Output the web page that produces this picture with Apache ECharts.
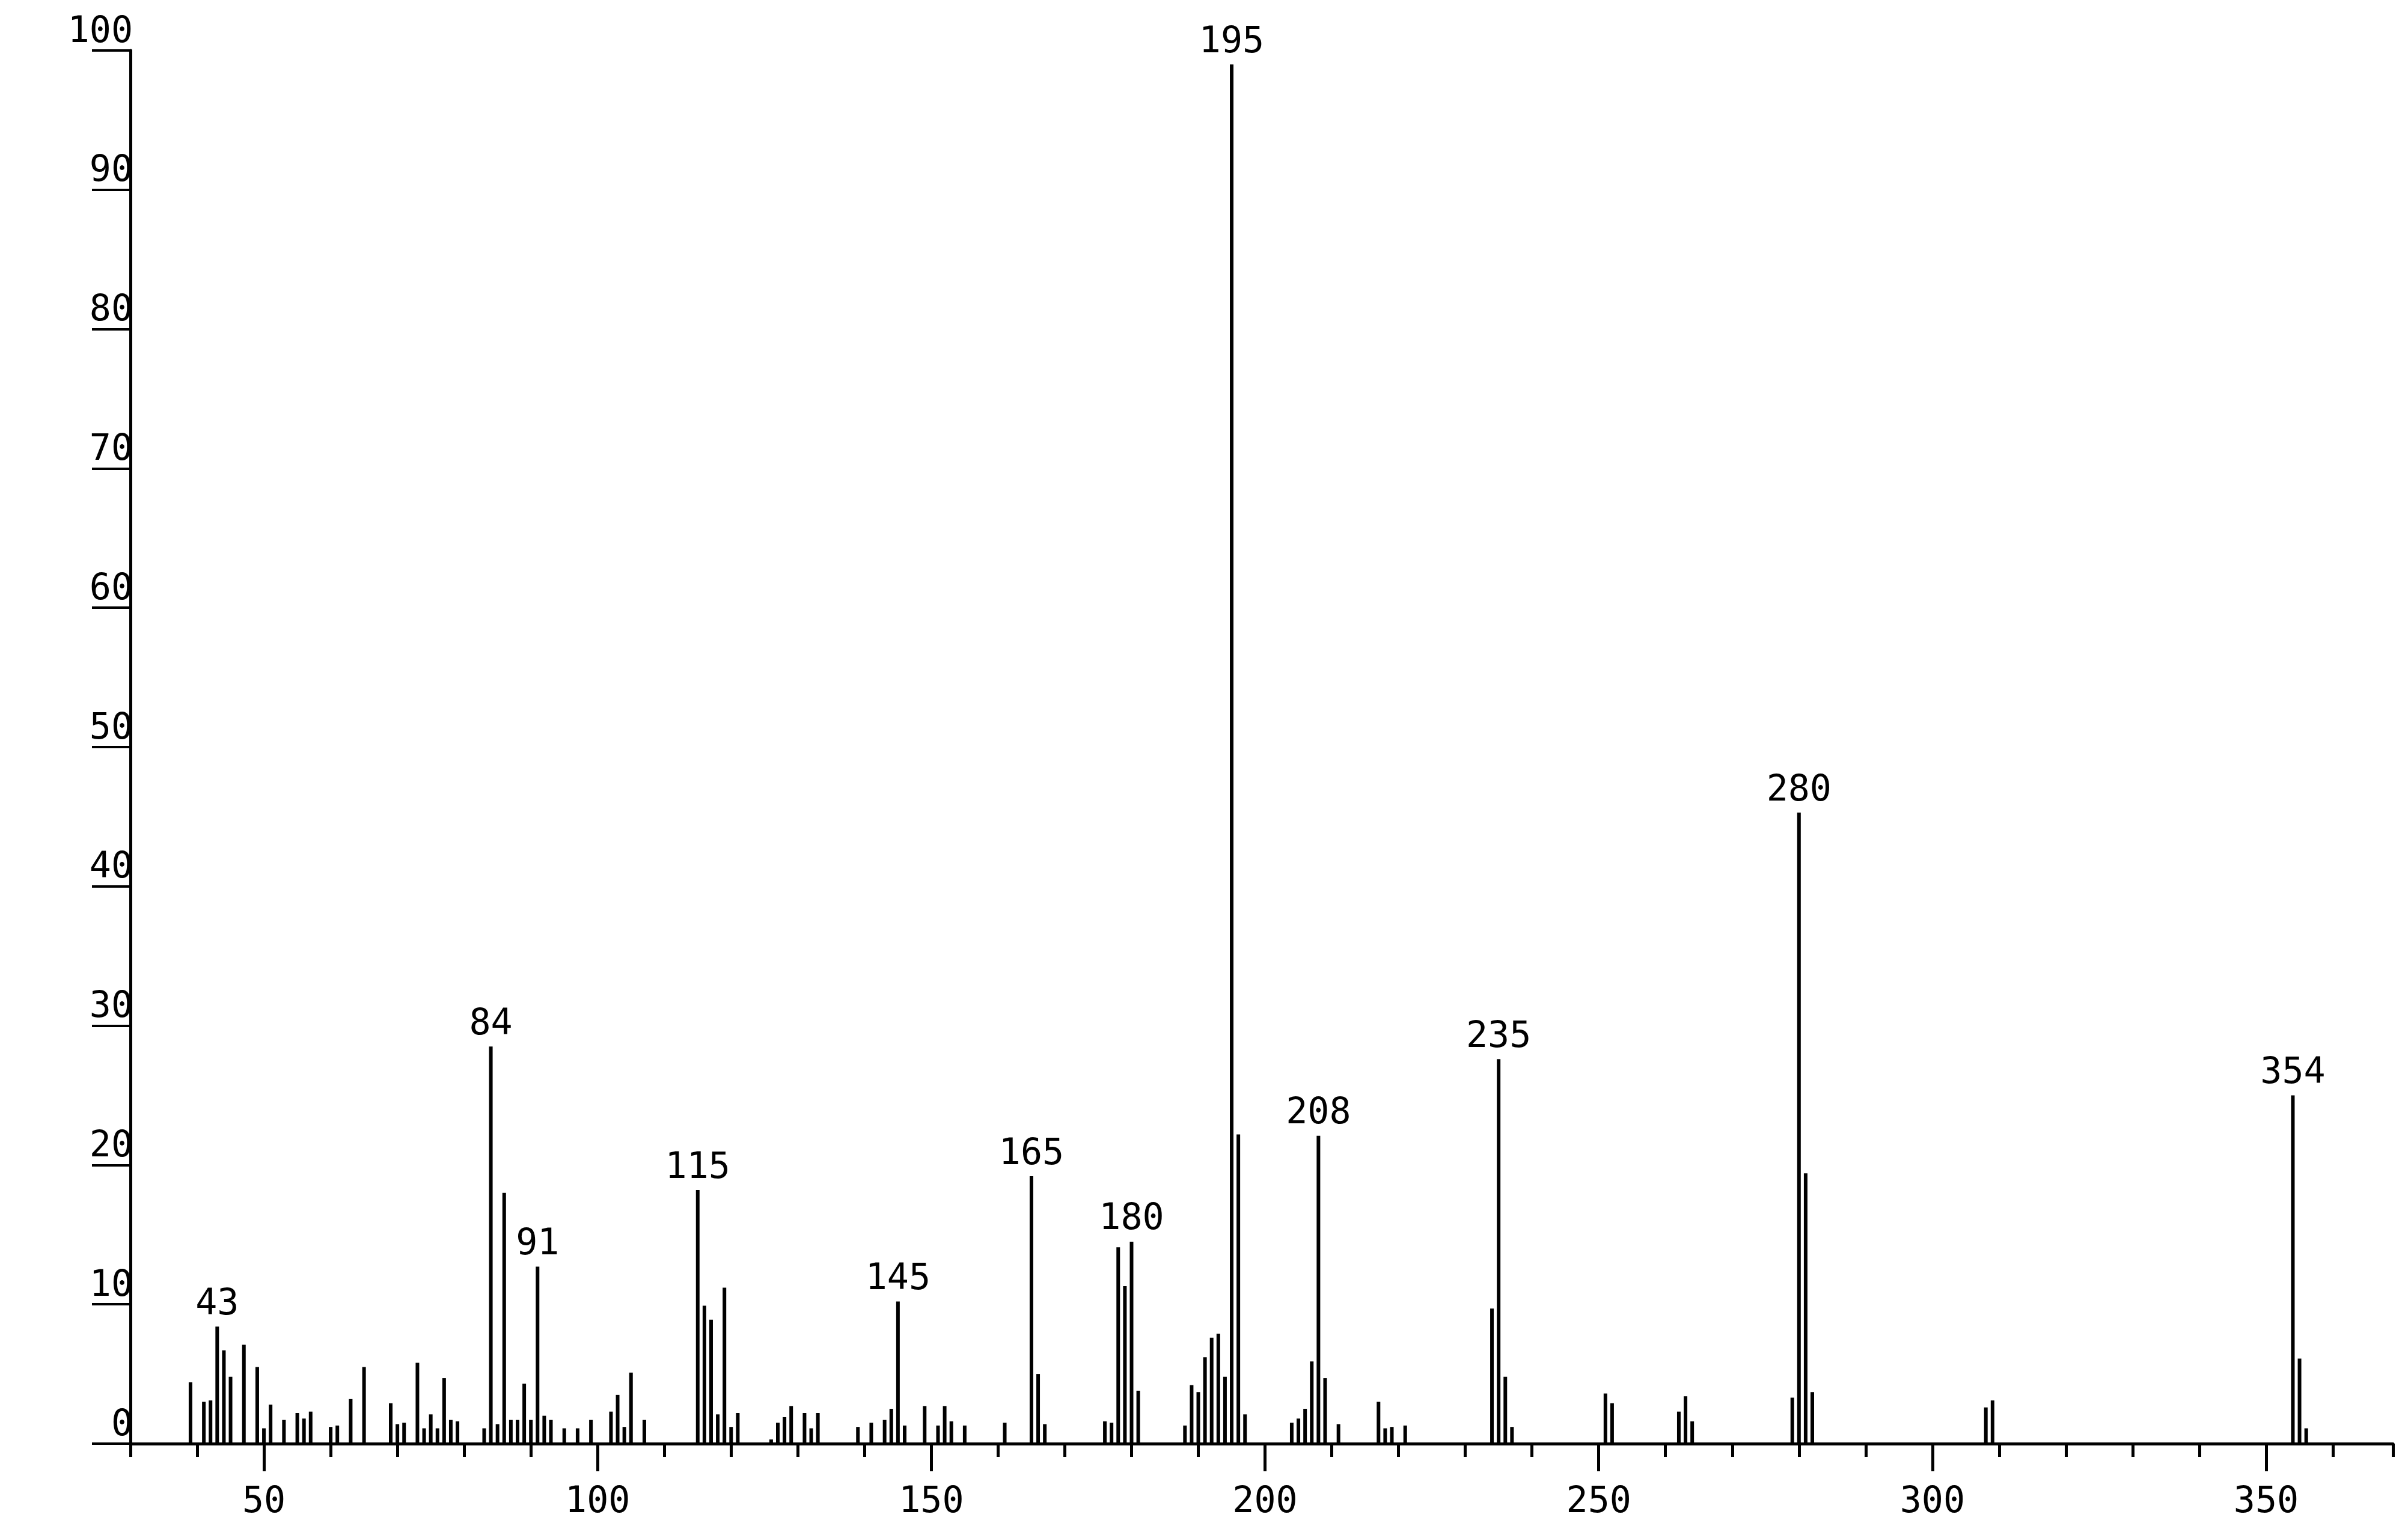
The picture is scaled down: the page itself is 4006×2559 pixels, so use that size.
<!DOCTYPE html>
<html>
<head>
<meta charset="UTF-8">
<title>Mass spectrum</title>
<script src="https://cdn.jsdelivr.net/npm/echarts@6/dist/echarts.min.js"></script>
<style>html,body{margin:0;padding:0;background:#fff}</style>
</head>
<body>
<div id="main" style="width:4006px;height:2559px;"></div>
<script type="text/javascript">
// m/z values and relative intensities
var mz = [39,41,42,43,44,45,47,49,50,51,53,55,56,57,60,61,63,65,69,70,71,73,74,75,76,77,78,79,
    83,84,85,86,87,88,89,90,91,92,93,95,97,99,102,103,104,105,107,
    115,116,117,118,119,120,121,126,127,128,129,131,132,133,139,141,143,144,145,146,149,151,152,153,155,161,
    165,166,167,176,177,178,179,180,181,188,189,190,191,192,193,194,195,196,197,
    204,205,206,207,208,209,211,217,218,219,221,234,235,236,237,
    251,252,262,263,264,279,280,281,282,308,309,354,355,356];
var intensity = [4.4,3.0,3.1,8.4,6.7,4.8,7.1,5.5,1.1,2.8,1.7,2.2,1.8,2.3,1.2,1.3,3.2,5.5,2.9,1.4,1.5,5.8,1.1,2.1,1.1,4.7,1.7,1.6,
    1.1,28.5,1.4,18.0,1.7,1.7,4.3,1.7,12.7,2.0,1.7,1.1,1.1,1.7,2.3,3.5,1.2,5.1,1.7,
    18.2,9.9,8.9,2.1,11.2,1.2,2.2,0.3,1.5,1.9,2.7,2.2,1.1,2.2,1.2,1.5,1.7,2.5,10.2,1.3,2.7,1.3,2.7,1.6,1.3,1.5,
    19.2,5.0,1.4,1.6,1.5,14.1,11.3,14.5,3.8,1.3,4.2,3.7,6.2,7.6,7.9,4.8,99.0,22.2,2.1,
    1.5,1.8,2.5,5.9,22.1,4.7,1.4,3.0,1.1,1.2,1.3,9.7,27.6,4.8,1.2,
    3.6,2.9,2.3,3.4,1.6,3.3,45.3,19.4,3.7,2.6,3.1,25.0,6.1,1.1];
var labeled = [43,84,91,115,145,165,180,195,208,235,280,354];
var xLabels = [50,100,150,200,250,300,350];
var yTicks = [0,10,20,30,40,50,60,70,80,90,100];

var font = 'DejaVu Sans Mono';
var myChart = echarts.init(document.getElementById('main'));

var seriesData = mz.map(function (m, i) {
    var item = {value: [m, intensity[i]]};
    if (labeled.indexOf(m) >= 0) {
        item.label = {show: true, position: 'top', distance: 6, formatter: String(m),
            fontFamily: font, fontSize: 60, color: '#000'};
    }
    return item;
});

var option = {
    backgroundColor: '#fff',
    animation: false,
    grid: {left: 217, right: 25, top: 84, bottom: 157},
    xAxis: [{
        type: 'value', min: 30, max: 369, interval: 10,
        axisLine: {lineStyle: {color: '#000', width: 5}},
        axisTick: {length: 22, lineStyle: {color: '#000', width: 5}},
        axisLabel: {show: false},
        splitLine: {show: false}
    }, {
        type: 'value', min: 30, max: 369, position: 'bottom',
        axisLine: {show: false},
        axisTick: {show: true, customValues: xLabels, length: 46, lineStyle: {color: '#000', width: 5}},
        axisLabel: {customValues: xLabels, margin: 68, fontFamily: font, fontSize: 60, color: '#000'},
        splitLine: {show: false}
    }],
    yAxis: {
        type: 'value', min: 0, max: 100, interval: 10,
        axisLine: {show: true, lineStyle: {color: '#000', width: 5}},
        axisTick: {show: true, length: 64, lineStyle: {color: '#000', width: 4}},
        axisLabel: {customValues: yTicks, margin: 66, fontFamily: font, fontSize: 60, color: '#000',
            verticalAlign: 'bottom', padding: [0, -70, 0, 0]},
        splitLine: {show: false}
    },
    series: [{
        type: 'bar',
        xAxisIndex: 0,
        barWidth: 6,
        itemStyle: {color: '#000'},
        data: seriesData
    }]
};
myChart.setOption(option);
</script>
</body>
</html>
